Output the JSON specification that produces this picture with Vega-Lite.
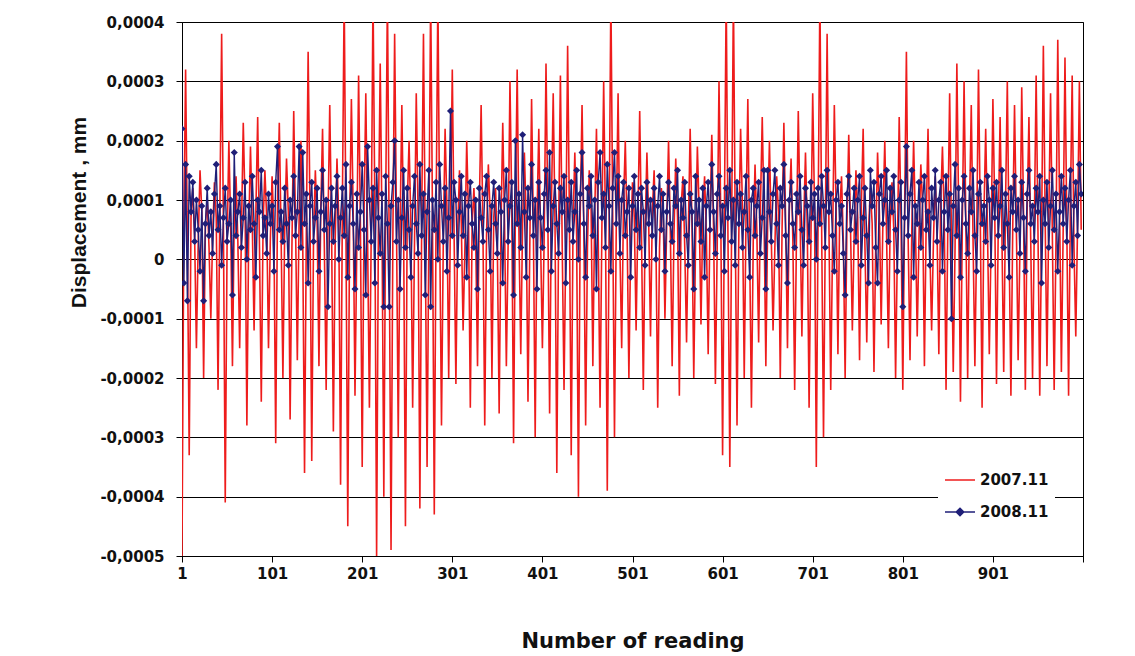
{
"$schema":"https://vega.github.io/schema/vega-lite/v6.json",
"width":901,"height":534,"autosize":"none",
"padding":{"left":182,"top":22,"right":52,"bottom":100},
"background":"white",
"config":{"view":{"stroke":"black","strokeWidth":1},"font":"DejaVu Sans"},
"data":{"values":[
{"n":1,"a":-50e-5,"b":22e-5},{"n":3,"a":5e-5,"b":-4e-5},{"n":5,"a":32e-5,"b":16e-5},{"n":7,"a":3e-5,"b":-7e-5},
{"n":9,"a":-33e-5,"b":14e-5},{"n":11,"a":7e-5,"b":8e-5},{"n":13,"a":12e-5,"b":13e-5},{"n":15,"a":4e-5,"b":3e-5},
{"n":17,"a":-15e-5,"b":10e-5},{"n":19,"a":3e-5,"b":5e-5},{"n":21,"a":15e-5,"b":-2e-5},{"n":23,"a":8e-5,"b":9e-5},
{"n":25,"a":-20e-5,"b":-7e-5},{"n":27,"a":6e-5,"b":6e-5},{"n":29,"a":10e-5,"b":12e-5},{"n":31,"a":2e-5,"b":4e-5},
{"n":33,"a":-10e-5,"b":8e-5},{"n":35,"a":4e-5,"b":1e-5},{"n":37,"a":13e-5,"b":11e-5},{"n":39,"a":7e-5,"b":16e-5},
{"n":41,"a":-22e-5,"b":5e-5},{"n":43,"a":8e-5,"b":9e-5},{"n":45,"a":38e-5,"b":-1e-5},{"n":47,"a":5e-5,"b":7e-5},
{"n":49,"a":-41e-5,"b":12e-5},{"n":51,"a":2e-5,"b":3e-5},{"n":53,"a":20e-5,"b":6e-5},{"n":55,"a":6e-5,"b":10e-5},
{"n":57,"a":-18e-5,"b":-6e-5},{"n":59,"a":7e-5,"b":18e-5},{"n":61,"a":14e-5,"b":4e-5},{"n":63,"a":3e-5,"b":8e-5},
{"n":65,"a":-15e-5,"b":11e-5},{"n":67,"a":5e-5,"b":2e-5},{"n":69,"a":23e-5,"b":7e-5},{"n":71,"a":9e-5,"b":13e-5},
{"n":73,"a":-28e-5,"b":0},{"n":75,"a":4e-5,"b":9e-5},{"n":77,"a":19e-5,"b":5e-5},{"n":79,"a":6e-5,"b":14e-5},
{"n":81,"a":-12e-5,"b":6e-5},{"n":83,"a":8e-5,"b":-3e-5},{"n":85,"a":24e-5,"b":10e-5},{"n":87,"a":2e-5,"b":8e-5},
{"n":89,"a":-24e-5,"b":15e-5},{"n":91,"a":6e-5,"b":4e-5},{"n":93,"a":15e-5,"b":7e-5},{"n":95,"a":7e-5,"b":1e-5},
{"n":97,"a":-15e-5,"b":11e-5},{"n":99,"a":3e-5,"b":6e-5},{"n":101,"a":14e-5,"b":9e-5},{"n":103,"a":5e-5,"b":-2e-5},
{"n":105,"a":-31e-5,"b":13e-5},{"n":107,"a":9e-5,"b":19e-5},{"n":109,"a":23e-5,"b":5e-5},{"n":111,"a":4e-5,"b":8e-5},
{"n":113,"a":-20e-5,"b":3e-5},{"n":115,"a":5e-5,"b":12e-5},{"n":117,"a":17e-5,"b":6e-5},{"n":119,"a":8e-5,"b":-1e-5},
{"n":121,"a":-27e-5,"b":10e-5},{"n":123,"a":2e-5,"b":7e-5},{"n":125,"a":25e-5,"b":14e-5},{"n":127,"a":6e-5,"b":4e-5},
{"n":129,"a":-17e-5,"b":8e-5},{"n":131,"a":7e-5,"b":19e-5},{"n":133,"a":20e-5,"b":2e-5},{"n":135,"a":3e-5,"b":18e-5},
{"n":137,"a":-36e-5,"b":6e-5},{"n":139,"a":5e-5,"b":11e-5},{"n":141,"a":35e-5,"b":-4e-5},{"n":143,"a":9e-5,"b":9e-5},
{"n":145,"a":-34e-5,"b":13e-5},{"n":147,"a":4e-5,"b":3e-5},{"n":149,"a":15e-5,"b":7e-5},{"n":151,"a":6e-5,"b":12e-5},
{"n":153,"a":-18e-5,"b":-2e-5},{"n":155,"a":8e-5,"b":8e-5},{"n":157,"a":22e-5,"b":15e-5},{"n":159,"a":2e-5,"b":5e-5},
{"n":161,"a":-22e-5,"b":10e-5},{"n":163,"a":6e-5,"b":-8e-5},{"n":165,"a":26e-5,"b":6e-5},{"n":167,"a":5e-5,"b":12e-5},
{"n":169,"a":-29e-5,"b":3e-5},{"n":171,"a":3e-5,"b":9e-5},{"n":173,"a":17e-5,"b":14e-5},{"n":175,"a":7e-5,"b":0},
{"n":177,"a":-38e-5,"b":7e-5},{"n":179,"a":9e-5,"b":12e-5},{"n":181,"a":45e-5,"b":4e-5},{"n":183,"a":4e-5,"b":16e-5},
{"n":185,"a":-45e-5,"b":-3e-5},{"n":187,"a":5e-5,"b":9e-5},{"n":189,"a":27e-5,"b":13e-5},{"n":191,"a":8e-5,"b":6e-5},
{"n":193,"a":-23e-5,"b":-5e-5},{"n":195,"a":2e-5,"b":11e-5},{"n":197,"a":31e-5,"b":2e-5},{"n":199,"a":6e-5,"b":8e-5},
{"n":201,"a":-35e-5,"b":16e-5},{"n":203,"a":7e-5,"b":5e-5},{"n":205,"a":28e-5,"b":-6e-5},{"n":207,"a":3e-5,"b":19e-5},
{"n":209,"a":-25e-5,"b":10e-5},{"n":211,"a":4e-5,"b":3e-5},{"n":213,"a":45e-5,"b":12e-5},{"n":215,"a":9e-5,"b":-4e-5},
{"n":217,"a":-50e-5,"b":15e-5},{"n":219,"a":6e-5,"b":7e-5},{"n":221,"a":33e-5,"b":1e-5},{"n":223,"a":5e-5,"b":11e-5},
{"n":225,"a":-40e-5,"b":-8e-5},{"n":227,"a":8e-5,"b":14e-5},{"n":229,"a":45e-5,"b":6e-5},{"n":231,"a":2e-5,"b":-8e-5},
{"n":233,"a":-49e-5,"b":9e-5},{"n":235,"a":3e-5,"b":13e-5},{"n":237,"a":38e-5,"b":20e-5},{"n":239,"a":7e-5,"b":3e-5},
{"n":241,"a":-30e-5,"b":10e-5},{"n":243,"a":5e-5,"b":-5e-5},{"n":245,"a":26e-5,"b":7e-5},{"n":247,"a":4e-5,"b":15e-5},
{"n":249,"a":-45e-5,"b":2e-5},{"n":251,"a":9e-5,"b":12e-5},{"n":253,"a":20e-5,"b":5e-5},{"n":255,"a":6e-5,"b":-3e-5},
{"n":257,"a":-25e-5,"b":9e-5},{"n":259,"a":2e-5,"b":14e-5},{"n":261,"a":28e-5,"b":6e-5},{"n":263,"a":8e-5,"b":1e-5},
{"n":265,"a":-42e-5,"b":16e-5},{"n":267,"a":6e-5,"b":4e-5},{"n":269,"a":38e-5,"b":11e-5},{"n":271,"a":3e-5,"b":-6e-5},
{"n":273,"a":-35e-5,"b":8e-5},{"n":275,"a":4e-5,"b":15e-5},{"n":277,"a":45e-5,"b":-8e-5},{"n":279,"a":7e-5,"b":10e-5},
{"n":281,"a":-43e-5,"b":5e-5},{"n":283,"a":7e-5,"b":13e-5},{"n":285,"a":45e-5,"b":0},{"n":287,"a":5e-5,"b":16e-5},
{"n":289,"a":-28e-5,"b":9e-5},{"n":291,"a":3e-5,"b":3e-5},{"n":293,"a":22e-5,"b":12e-5},{"n":295,"a":9e-5,"b":-2e-5},
{"n":297,"a":-20e-5,"b":7e-5},{"n":299,"a":8e-5,"b":25e-5},{"n":301,"a":32e-5,"b":4e-5},{"n":303,"a":4e-5,"b":13e-5},
{"n":305,"a":-21e-5,"b":10e-5},{"n":307,"a":5e-5,"b":-1e-5},{"n":309,"a":15e-5,"b":8e-5},{"n":311,"a":6e-5,"b":14e-5},
{"n":313,"a":-12e-5,"b":4e-5},{"n":315,"a":2e-5,"b":11e-5},{"n":317,"a":20e-5,"b":-3e-5},{"n":319,"a":7e-5,"b":9e-5},
{"n":321,"a":-25e-5,"b":13e-5},{"n":323,"a":6e-5,"b":6e-5},{"n":325,"a":12e-5,"b":2e-5},{"n":327,"a":3e-5,"b":10e-5},
{"n":329,"a":-18e-5,"b":-5e-5},{"n":331,"a":9e-5,"b":12e-5},{"n":333,"a":26e-5,"b":7e-5},{"n":335,"a":5e-5,"b":3e-5},
{"n":337,"a":-28e-5,"b":11e-5},{"n":339,"a":4e-5,"b":14e-5},{"n":341,"a":16e-5,"b":5e-5},{"n":343,"a":8e-5,"b":-2e-5},
{"n":345,"a":-20e-5,"b":9e-5},{"n":347,"a":7e-5,"b":13e-5},{"n":349,"a":12e-5,"b":6e-5},{"n":351,"a":2e-5,"b":1e-5},
{"n":353,"a":-26e-5,"b":12e-5},{"n":355,"a":5e-5,"b":8e-5},{"n":357,"a":23e-5,"b":-4e-5},{"n":359,"a":6e-5,"b":10e-5},
{"n":361,"a":-18e-5,"b":15e-5},{"n":363,"a":3e-5,"b":3e-5},{"n":365,"a":30e-5,"b":9e-5},{"n":367,"a":9e-5,"b":13e-5},
{"n":369,"a":-31e-5,"b":-6e-5},{"n":371,"a":8e-5,"b":20e-5},{"n":373,"a":32e-5,"b":6e-5},{"n":375,"a":4e-5,"b":11e-5},
{"n":377,"a":-16e-5,"b":2e-5},{"n":379,"a":6e-5,"b":21e-5},{"n":381,"a":18e-5,"b":8e-5},{"n":383,"a":7e-5,"b":-3e-5},
{"n":385,"a":-24e-5,"b":12e-5},{"n":387,"a":2e-5,"b":7e-5},{"n":389,"a":27e-5,"b":16e-5},{"n":391,"a":5e-5,"b":4e-5},
{"n":393,"a":-30e-5,"b":10e-5},{"n":395,"a":7e-5,"b":-5e-5},{"n":397,"a":22e-5,"b":13e-5},{"n":399,"a":3e-5,"b":7e-5},
{"n":401,"a":-15e-5,"b":2e-5},{"n":403,"a":4e-5,"b":11e-5},{"n":405,"a":33e-5,"b":15e-5},{"n":407,"a":8e-5,"b":5e-5},
{"n":409,"a":-26e-5,"b":18e-5},{"n":411,"a":9e-5,"b":-2e-5},{"n":413,"a":28e-5,"b":9e-5},{"n":415,"a":6e-5,"b":13e-5},
{"n":417,"a":-36e-5,"b":6e-5},{"n":419,"a":5e-5,"b":1e-5},{"n":421,"a":31e-5,"b":12e-5},{"n":423,"a":2e-5,"b":8e-5},
{"n":425,"a":-22e-5,"b":14e-5},{"n":427,"a":3e-5,"b":-4e-5},{"n":429,"a":36e-5,"b":10e-5},{"n":431,"a":7e-5,"b":5e-5},
{"n":433,"a":-33e-5,"b":13e-5},{"n":435,"a":6e-5,"b":3e-5},{"n":437,"a":18e-5,"b":8e-5},{"n":439,"a":4e-5,"b":15e-5},
{"n":441,"a":-40e-5,"b":0},{"n":443,"a":8e-5,"b":11e-5},{"n":445,"a":26e-5,"b":18e-5},{"n":447,"a":5e-5,"b":6e-5},
{"n":449,"a":-28e-5,"b":-3e-5},{"n":451,"a":2e-5,"b":12e-5},{"n":453,"a":15e-5,"b":9e-5},{"n":455,"a":9e-5,"b":14e-5},
{"n":457,"a":-18e-5,"b":4e-5},{"n":459,"a":7e-5,"b":10e-5},{"n":461,"a":22e-5,"b":-5e-5},{"n":463,"a":3e-5,"b":13e-5},
{"n":465,"a":-25e-5,"b":18e-5},{"n":467,"a":5e-5,"b":7e-5},{"n":469,"a":30e-5,"b":11e-5},{"n":471,"a":6e-5,"b":2e-5},
{"n":473,"a":-39e-5,"b":16e-5},{"n":475,"a":4e-5,"b":9e-5},{"n":477,"a":45e-5,"b":-2e-5},{"n":479,"a":8e-5,"b":12e-5},
{"n":481,"a":-30e-5,"b":18e-5},{"n":483,"a":6e-5,"b":6e-5},{"n":485,"a":28e-5,"b":14e-5},{"n":487,"a":2e-5,"b":1e-5},
{"n":489,"a":-15e-5,"b":10e-5},{"n":491,"a":9e-5,"b":13e-5},{"n":493,"a":20e-5,"b":4e-5},{"n":495,"a":5e-5,"b":8e-5},
{"n":497,"a":-20e-5,"b":12e-5},{"n":499,"a":3e-5,"b":-3e-5},{"n":501,"a":13e-5,"b":9e-5},{"n":503,"a":7e-5,"b":14e-5},
{"n":505,"a":-12e-5,"b":5e-5},{"n":507,"a":7e-5,"b":11e-5},{"n":509,"a":25e-5,"b":2e-5},{"n":511,"a":4e-5,"b":12e-5},
{"n":513,"a":-22e-5,"b":8e-5},{"n":515,"a":5e-5,"b":-1e-5},{"n":517,"a":18e-5,"b":13e-5},{"n":519,"a":6e-5,"b":6e-5},
{"n":521,"a":-13e-5,"b":10e-5},{"n":523,"a":8e-5,"b":4e-5},{"n":525,"a":15e-5,"b":12e-5},{"n":527,"a":3e-5,"b":0},
{"n":529,"a":-25e-5,"b":9e-5},{"n":531,"a":2e-5,"b":14e-5},{"n":533,"a":12e-5,"b":5e-5},{"n":535,"a":9e-5,"b":11e-5},
{"n":537,"a":-10e-5,"b":-2e-5},{"n":539,"a":6e-5,"b":8e-5},{"n":541,"a":20e-5,"b":13e-5},{"n":543,"a":5e-5,"b":6e-5},
{"n":545,"a":-18e-5,"b":3e-5},{"n":547,"a":4e-5,"b":12e-5},{"n":549,"a":17e-5,"b":9e-5},{"n":551,"a":7e-5,"b":15e-5},
{"n":553,"a":-23e-5,"b":1e-5},{"n":555,"a":9e-5,"b":10e-5},{"n":557,"a":14e-5,"b":7e-5},{"n":559,"a":2e-5,"b":13e-5},
{"n":561,"a":-14e-5,"b":4e-5},{"n":563,"a":5e-5,"b":-1e-5},{"n":565,"a":22e-5,"b":11e-5},{"n":567,"a":6e-5,"b":8e-5},
{"n":569,"a":-20e-5,"b":-5e-5},{"n":571,"a":3e-5,"b":14e-5},{"n":573,"a":19e-5,"b":6e-5},{"n":575,"a":8e-5,"b":10e-5},
{"n":577,"a":-11e-5,"b":3e-5},{"n":579,"a":7e-5,"b":12e-5},{"n":581,"a":14e-5,"b":-3e-5},{"n":583,"a":4e-5,"b":9e-5},
{"n":585,"a":-16e-5,"b":13e-5},{"n":587,"a":6e-5,"b":5e-5},{"n":589,"a":21e-5,"b":16e-5},{"n":591,"a":5e-5,"b":8e-5},
{"n":593,"a":-21e-5,"b":1e-5},{"n":595,"a":2e-5,"b":11e-5},{"n":597,"a":30e-5,"b":14e-5},{"n":599,"a":7e-5,"b":4e-5},
{"n":601,"a":-33e-5,"b":9e-5},{"n":603,"a":8e-5,"b":-2e-5},{"n":605,"a":45e-5,"b":12e-5},{"n":607,"a":3e-5,"b":7e-5},
{"n":609,"a":-35e-5,"b":15e-5},{"n":611,"a":5e-5,"b":3e-5},{"n":613,"a":45e-5,"b":10e-5},{"n":615,"a":6e-5,"b":-1e-5},
{"n":617,"a":-28e-5,"b":13e-5},{"n":619,"a":4e-5,"b":6e-5},{"n":621,"a":22e-5,"b":11e-5},{"n":623,"a":9e-5,"b":2e-5},
{"n":625,"a":-20e-5,"b":8e-5},{"n":627,"a":7e-5,"b":14e-5},{"n":629,"a":27e-5,"b":5e-5},{"n":631,"a":2e-5,"b":-3e-5},
{"n":633,"a":-25e-5,"b":10e-5},{"n":635,"a":3e-5,"b":12e-5},{"n":637,"a":16e-5,"b":4e-5},{"n":639,"a":5e-5,"b":9e-5},
{"n":641,"a":-14e-5,"b":13e-5},{"n":643,"a":9e-5,"b":1e-5},{"n":645,"a":24e-5,"b":7e-5},{"n":647,"a":7e-5,"b":15e-5},
{"n":649,"a":-18e-5,"b":-5e-5},{"n":651,"a":6e-5,"b":15e-5},{"n":653,"a":20e-5,"b":8e-5},{"n":655,"a":4e-5,"b":3e-5},
{"n":657,"a":-12e-5,"b":11e-5},{"n":659,"a":2e-5,"b":15e-5},{"n":661,"a":14e-5,"b":6e-5},{"n":663,"a":8e-5,"b":-1e-5},
{"n":665,"a":-20e-5,"b":12e-5},{"n":667,"a":5e-5,"b":9e-5},{"n":669,"a":23e-5,"b":16e-5},{"n":671,"a":6e-5,"b":4e-5},
{"n":673,"a":-15e-5,"b":-4e-5},{"n":675,"a":8e-5,"b":10e-5},{"n":677,"a":17e-5,"b":13e-5},{"n":679,"a":3e-5,"b":6e-5},
{"n":681,"a":-22e-5,"b":2e-5},{"n":683,"a":4e-5,"b":11e-5},{"n":685,"a":25e-5,"b":8e-5},{"n":687,"a":7e-5,"b":14e-5},
{"n":689,"a":-13e-5,"b":5e-5},{"n":691,"a":6e-5,"b":-1e-5},{"n":693,"a":18e-5,"b":12e-5},{"n":695,"a":5e-5,"b":9e-5},
{"n":697,"a":-25e-5,"b":3e-5},{"n":699,"a":3e-5,"b":13e-5},{"n":701,"a":28e-5,"b":7e-5},{"n":703,"a":9e-5,"b":11e-5},
{"n":705,"a":-35e-5,"b":0},{"n":707,"a":7e-5,"b":12e-5},{"n":709,"a":45e-5,"b":6e-5},{"n":711,"a":4e-5,"b":14e-5},
{"n":713,"a":-30e-5,"b":9e-5},{"n":715,"a":5e-5,"b":2e-5},{"n":717,"a":38e-5,"b":15e-5},{"n":719,"a":6e-5,"b":8e-5},
{"n":721,"a":-22e-5,"b":11e-5},{"n":723,"a":2e-5,"b":4e-5},{"n":725,"a":26e-5,"b":-2e-5},{"n":727,"a":8e-5,"b":10e-5},
{"n":729,"a":-16e-5,"b":13e-5},{"n":731,"a":8e-5,"b":6e-5},{"n":733,"a":14e-5,"b":9e-5},{"n":735,"a":3e-5,"b":1e-5},
{"n":737,"a":-20e-5,"b":-6e-5},{"n":739,"a":6e-5,"b":11e-5},{"n":741,"a":21e-5,"b":14e-5},{"n":743,"a":5e-5,"b":5e-5},
{"n":745,"a":-12e-5,"b":8e-5},{"n":747,"a":4e-5,"b":12e-5},{"n":749,"a":15e-5,"b":3e-5},{"n":751,"a":7e-5,"b":10e-5},
{"n":753,"a":-17e-5,"b":14e-5},{"n":755,"a":9e-5,"b":-1e-5},{"n":757,"a":22e-5,"b":7e-5},{"n":759,"a":2e-5,"b":12e-5},
{"n":761,"a":-14e-5,"b":4e-5},{"n":763,"a":5e-5,"b":-4e-5},{"n":765,"a":12e-5,"b":15e-5},{"n":767,"a":6e-5,"b":9e-5},
{"n":769,"a":-19e-5,"b":13e-5},{"n":771,"a":3e-5,"b":2e-5},{"n":773,"a":18e-5,"b":-4e-5},{"n":775,"a":8e-5,"b":11e-5},
{"n":777,"a":-11e-5,"b":14e-5},{"n":779,"a":7e-5,"b":6e-5},{"n":781,"a":20e-5,"b":10e-5},{"n":783,"a":4e-5,"b":15e-5},
{"n":785,"a":-15e-5,"b":3e-5},{"n":787,"a":6e-5,"b":12e-5},{"n":789,"a":13e-5,"b":8e-5},{"n":791,"a":5e-5,"b":14e-5},
{"n":793,"a":-20e-5,"b":5e-5},{"n":795,"a":2e-5,"b":-2e-5},{"n":797,"a":24e-5,"b":10e-5},{"n":799,"a":7e-5,"b":13e-5},
{"n":801,"a":-22e-5,"b":-8e-5},{"n":803,"a":8e-5,"b":7e-5},{"n":805,"a":35e-5,"b":19e-5},{"n":807,"a":3e-5,"b":4e-5},
{"n":809,"a":-17e-5,"b":11e-5},{"n":811,"a":5e-5,"b":15e-5},{"n":813,"a":20e-5,"b":-3e-5},{"n":815,"a":6e-5,"b":9e-5},
{"n":817,"a":-13e-5,"b":6e-5},{"n":819,"a":4e-5,"b":13e-5},{"n":821,"a":16e-5,"b":2e-5},{"n":823,"a":9e-5,"b":10e-5},
{"n":825,"a":-18e-5,"b":14e-5},{"n":827,"a":7e-5,"b":5e-5},{"n":829,"a":22e-5,"b":8e-5},{"n":831,"a":2e-5,"b":-1e-5},
{"n":833,"a":-12e-5,"b":12e-5},{"n":835,"a":3e-5,"b":7e-5},{"n":837,"a":14e-5,"b":15e-5},{"n":839,"a":5e-5,"b":3e-5},
{"n":841,"a":-16e-5,"b":10e-5},{"n":843,"a":9e-5,"b":13e-5},{"n":845,"a":19e-5,"b":-2e-5},{"n":847,"a":7e-5,"b":8e-5},
{"n":849,"a":-22e-5,"b":14e-5},{"n":851,"a":6e-5,"b":5e-5},{"n":853,"a":28e-5,"b":11e-5},{"n":855,"a":4e-5,"b":-10e-5},
{"n":857,"a":-19e-5,"b":9e-5},{"n":859,"a":2e-5,"b":16e-5},{"n":861,"a":33e-5,"b":4e-5},{"n":863,"a":8e-5,"b":12e-5},
{"n":865,"a":-24e-5,"b":-3e-5},{"n":867,"a":5e-5,"b":10e-5},{"n":869,"a":30e-5,"b":14e-5},{"n":871,"a":6e-5,"b":6e-5},
{"n":873,"a":-20e-5,"b":1e-5},{"n":875,"a":8e-5,"b":12e-5},{"n":877,"a":26e-5,"b":8e-5},{"n":879,"a":3e-5,"b":15e-5},
{"n":881,"a":-18e-5,"b":4e-5},{"n":883,"a":4e-5,"b":-2e-5},{"n":885,"a":32e-5,"b":11e-5},{"n":887,"a":7e-5,"b":13e-5},
{"n":889,"a":-25e-5,"b":6e-5},{"n":891,"a":7e-5,"b":9e-5},{"n":893,"a":22e-5,"b":3e-5},{"n":895,"a":5e-5,"b":14e-5},
{"n":897,"a":-16e-5,"b":10e-5},{"n":899,"a":3e-5,"b":-1e-5},{"n":901,"a":27e-5,"b":12e-5},{"n":903,"a":9e-5,"b":7e-5},
{"n":905,"a":-21e-5,"b":13e-5},{"n":907,"a":6e-5,"b":4e-5},{"n":909,"a":24e-5,"b":9e-5},{"n":911,"a":4e-5,"b":15e-5},
{"n":913,"a":-19e-5,"b":2e-5},{"n":915,"a":9e-5,"b":11e-5},{"n":917,"a":30e-5,"b":6e-5},{"n":919,"a":2e-5,"b":-3e-5},
{"n":921,"a":-23e-5,"b":12e-5},{"n":923,"a":5e-5,"b":8e-5},{"n":925,"a":26e-5,"b":14e-5},{"n":927,"a":6e-5,"b":5e-5},
{"n":929,"a":-17e-5,"b":10e-5},{"n":931,"a":2e-5,"b":1e-5},{"n":933,"a":29e-5,"b":13e-5},{"n":935,"a":8e-5,"b":7e-5},
{"n":937,"a":-22e-5,"b":-2e-5},{"n":939,"a":8e-5,"b":11e-5},{"n":941,"a":24e-5,"b":15e-5},{"n":943,"a":3e-5,"b":6e-5},
{"n":945,"a":-20e-5,"b":9e-5},{"n":947,"a":6e-5,"b":3e-5},{"n":949,"a":31e-5,"b":12e-5},{"n":951,"a":5e-5,"b":8e-5},
{"n":953,"a":-23e-5,"b":14e-5},{"n":955,"a":4e-5,"b":-4e-5},{"n":957,"a":36e-5,"b":10e-5},{"n":959,"a":7e-5,"b":6e-5},
{"n":961,"a":-18e-5,"b":13e-5},{"n":963,"a":7e-5,"b":2e-5},{"n":965,"a":28e-5,"b":9e-5},{"n":967,"a":4e-5,"b":15e-5},
{"n":969,"a":-22e-5,"b":5e-5},{"n":971,"a":3e-5,"b":11e-5},{"n":973,"a":37e-5,"b":-2e-5},{"n":975,"a":9e-5,"b":8e-5},
{"n":977,"a":-19e-5,"b":14e-5},{"n":979,"a":5e-5,"b":6e-5},{"n":981,"a":34e-5,"b":12e-5},{"n":983,"a":6e-5,"b":3e-5},
{"n":985,"a":-23e-5,"b":10e-5},{"n":987,"a":9e-5,"b":15e-5},{"n":989,"a":31e-5,"b":-1e-5},{"n":991,"a":2e-5,"b":9e-5},
{"n":993,"a":-13e-5,"b":13e-5},{"n":995,"a":6e-5,"b":4e-5},{"n":997,"a":30e-5,"b":16e-5},{"n":999,"a":5e-5,"b":11e-5}
]},
"layer":[
{"mark":{"type":"line","strokeWidth":1.6,"clip":true},
 "encoding":{
  "x":{"field":"n","type":"quantitative","title":"Number of reading",
   "scale":{"domain":[1,1001],"nice":false,"zero":false},
   "axis":{"values":[1,101,201,301,401,501,601,701,801,901,1001],"format":"d","labelExpr":"datum.value > 1000 ? '' : datum.label","grid":false,"domainColor":"black","tickColor":"black","tickSize":6,"labelPadding":4,"labelFlush":false,"labelFont":"DejaVu Sans","labelFontSize":15,"labelFontWeight":"bold","labelColor":"#111","titleFont":"DejaVu Sans","titleFontSize":21,"titleFontWeight":"bold","titleColor":"#111","titleY":74,"titleBaseline":"top"}},
  "y":{"field":"a","type":"quantitative","title":"Displacement , mm",
   "scale":{"domain":[-0.0005,0.0004],"nice":false,"zero":false},
   "axis":{"values":[-0.0005,-0.0004,-0.0003,-0.0002,-0.0001,0,0.0001,0.0002,0.0003,0.0004],"labelExpr":"datum.value == 0 ? '0' : replace(replace(format(datum.value, '.4f'), '.', ','), '\u2212', '-')","grid":true,"gridColor":"black","gridOpacity":1,"gridWidth":1,"domainColor":"black","tickColor":"black","tickSize":6,"labelPadding":12,"labelFlush":false,"labelFont":"DejaVu Sans","labelFontSize":15,"labelFontWeight":"bold","labelColor":"#111","titleFont":"Liberation Sans","titleFontSize":21,"titleFontWeight":"bold","titleColor":"#111","titleX":-93,"titleY":190}},
  "color":{"datum":"2007.11","scale":{"domain":["2007.11","2008.11"],"range":["#ee1c1c","#1f1f78"]},
   "legend":{"orient":"none","legendX":756,"legendY":436,"title":null,"fillColor":"white","padding":6,"symbolSize":900,"symbolType":"stroke","symbolStrokeWidth":1.5,"labelFont":"DejaVu Sans","labelFontSize":15,"labelFontWeight":"bold","labelColor":"#111","rowPadding":8,"labelOffset":4,
    "encode":{"symbols":{"update":{"shape":[{"test":"datum.value === '2008.11'","value":"M-1,0H1M0,-0.25L0.25,0L0,0.25L-0.25,0Z"},{"value":"stroke"}],"fill":[{"test":"datum.value === '2008.11'","value":"#1f1f78"},{"value":"transparent"}]}}}}}
 }},
{"mark":{"type":"line","strokeWidth":1.4,"clip":true},
 "encoding":{
  "x":{"field":"n","type":"quantitative","title":"Number of reading"},
  "y":{"field":"b","type":"quantitative","title":"Displacement , mm"},
  "color":{"datum":"2008.11"}}},
{"mark":{"type":"point","shape":"diamond","filled":true,"size":50,"opacity":1,"color":"#1f1f78","clip":true},
 "encoding":{
  "x":{"field":"n","type":"quantitative","title":"Number of reading"},
  "y":{"field":"b","type":"quantitative","title":"Displacement , mm"}}}
]
}
